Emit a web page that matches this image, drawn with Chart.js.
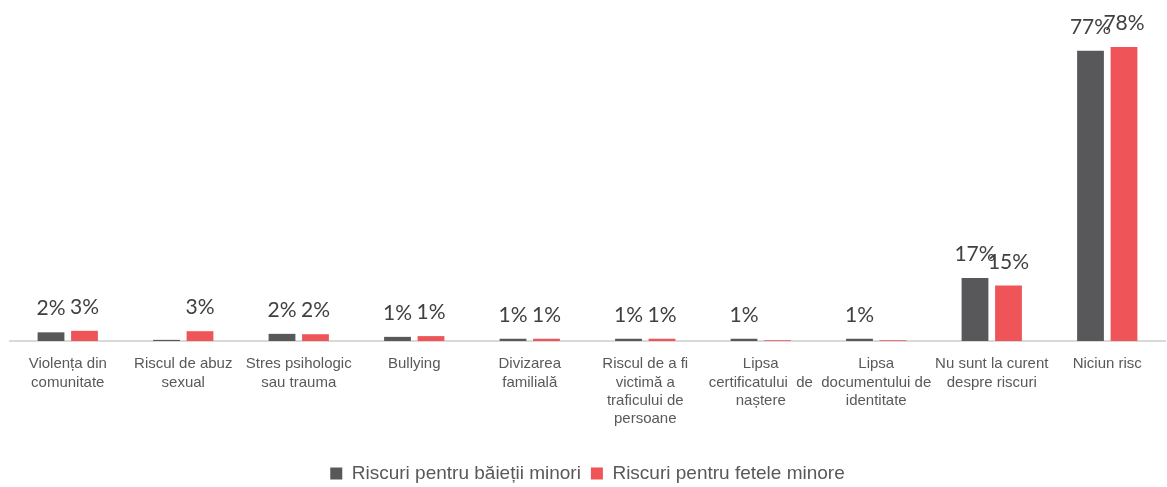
<!DOCTYPE html>
<html>
<head>
<meta charset="utf-8">
<script src="https://cdn.jsdelivr.net/npm/chart.js@4/dist/chart.umd.min.js"></script>
<style>
  html, body { margin: 0; padding: 0; background: #fff; }
  #wrap { width: 1167px; height: 487px; position: relative; }
</style>
</head>
<body>
<div id="wrap"><canvas id="chart"></canvas></div>
<script>
// ── Données ──
const categories = [
  ['Violența din', 'comunitate'],
  ['Riscul de abuz', 'sexual'],
  ['Stres psihologic', 'sau trauma'],
  ['Bullying'],
  ['Divizarea', 'familială'],
  ['Riscul de a fi', 'victimă a', 'traficului de', 'persoane'],
  ['Lipsa', 'certificatului  de', 'naștere'],
  ['Lipsa', 'documentului de', 'identitate'],
  ['Nu sunt la curent', 'despre riscuri'],
  ['Niciun risc']
];
const baieti = [2.3, 0.3, 1.9, 1.1, 0.6, 0.6, 0.6, 0.6, 16.7, 77];
const fete   = [2.7, 2.6, 1.8, 1.3, 0.6, 0.6, 0.2, 0.2, 14.7, 78];
const serii  = ['Riscuri pentru băieții minori', 'Riscuri pentru fetele minore'];

const GRI  = '#58585a';
const ROSU = '#ef5459';
const POLICE = 'Liberation Sans Narrow, Arial Narrow, Liberation Sans';

// ── Étiquettes de valeur au-dessus des barres ──
const etiquettes = {
  id: 'etiquettes',
  afterDatasetsDraw(chart) {
    const c = chart.ctx;
    c.save();
    c.font = '21px Lato';
    c.fillStyle = '#404040';
    c.textAlign = 'center';
    c.textBaseline = 'alphabetic';
    chart.data.datasets.forEach((ds, i) => {
      chart.getDatasetMeta(i).data.forEach((bar, j) => {
        const v = Math.round(ds.data[j]);
        if (v < 1) return;
        c.fillText(v + '%', bar.x, bar.y - 17);
      });
    });
    c.restore();
  }
};

new Chart(document.getElementById('chart'), {
  type: 'bar',
  data: {
    labels: categories,
    datasets: [
      { label: serii[0], data: baieti, backgroundColor: GRI,
        categoryPercentage: 0.58, barPercentage: 0.8 },
      { label: serii[1], data: fete, backgroundColor: ROSU,
        categoryPercentage: 0.58, barPercentage: 0.8 }
    ]
  },
  options: {
    responsive: true,
    maintainAspectRatio: false,
    animation: false,
    layout: { padding: { left: 10, right: 2, top: 0, bottom: -6 } },
    plugins: {
      legend: {
        position: 'bottom',
        labels: {
          boxWidth: 12, boxHeight: 12, padding: 10,
          color: '#595959',
          font: { family: POLICE, size: 19 }
        }
      },
      tooltip: { enabled: false }
    },
    scales: {
      x: {
        grid: { display: false },
        border: { color: '#d9d9d9', width: 2 },
        afterFit: s => { s.height = 113; },
        ticks: {
          color: '#595959', maxRotation: 0, autoSkip: false, padding: 6,
          font: { family: POLICE, size: 15, lineHeight: 1.22 }
        }
      },
      y: {
        display: false,
        min: 0, max: 90.5
      }
    }
  },
  plugins: [etiquettes]
});
</script>
</body>
</html>
